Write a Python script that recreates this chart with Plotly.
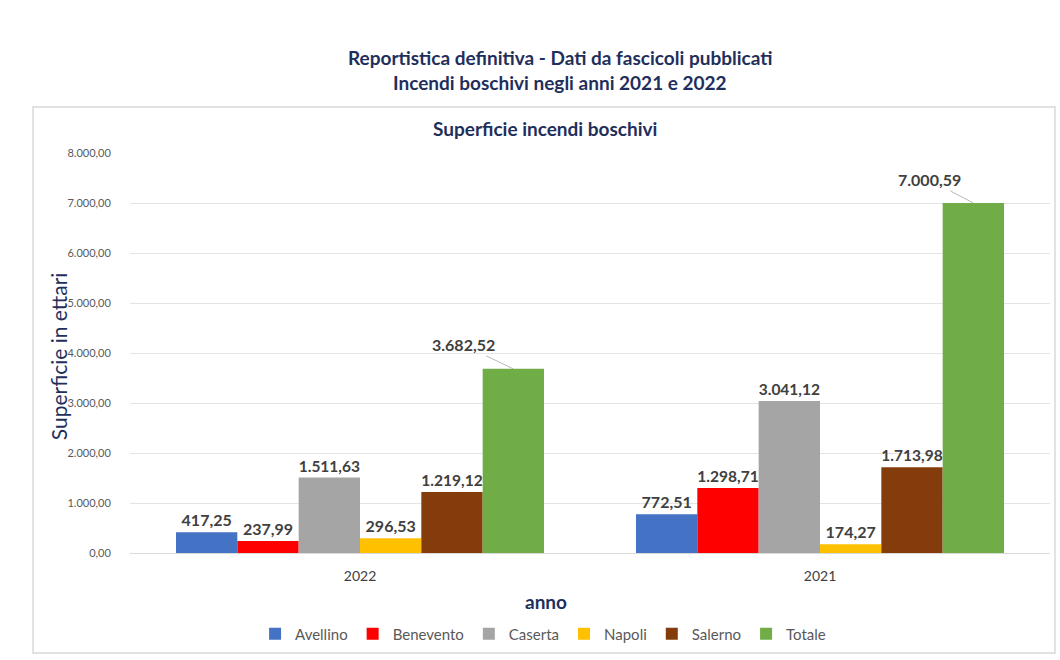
import plotly.graph_objects as go

# Superficie percorsa dal fuoco (ettari) per provincia
anni = ["2022", "2021"]
province = ["Avellino", "Benevento", "Caserta", "Napoli", "Salerno", "Totale"]
avellino = [417.25, 772.51]
benevento = [237.99, 1298.71]
caserta = [1511.63, 3041.12]
napoli = [296.53, 174.27]
salerno = [1219.12, 1713.98]
totale = [3682.52, 7000.59]

serie = [avellino, benevento, caserta, napoli, salerno, totale]
colori = ["#4472C4", "#FF0000", "#A5A5A5", "#FFC000", "#843C0C", "#70AD47"]

FONT = "Lato"
NAVY = "#1F2F5C"
LABEL = "#404040"

fig = go.Figure()
for nome, valori, colore in zip(province, serie, colori):
    is_tot = nome == "Totale"
    fig.add_trace(go.Bar(
        name=nome,
        x=anni,
        y=valori,
        marker=dict(color=colore, line=dict(width=0)),
        texttemplate="" if is_tot else "%{y:,.2f}",
        textposition="outside",
        textfont=dict(family=FONT, size=16, color=LABEL, weight="bold"),
        cliponaxis=False,
    ))

# Etichette del totale con linea guida
offset_tot = 0.4 - 0.4 / 6
spost = [(-50, -24), (-44, -23)]
for i, (v, (ax, ay)) in enumerate(zip(totale, spost)):
    etichetta = f"{v:,.2f}".replace(",", "X").replace(".", ",").replace("X", ".")
    fig.add_annotation(
        x=i + offset_tot, y=v, xref="x", yref="y",
        text=etichetta, showarrow=True, arrowhead=0, arrowwidth=0.8,
        arrowcolor="#A6A6A6", ax=ax, ay=ay, standoff=0,
        font=dict(family=FONT, size=16, color=LABEL, weight="bold"),
    )

# Titoli
def testo(x, y, t, size, bold=True, angle=0):
    fig.add_annotation(
        x=x, y=y, xref="paper", yref="paper", showarrow=False,
        xanchor="center", yanchor="middle", text=t, textangle=angle,
        font=dict(family=FONT, size=size, color=NAVY,
                  weight="bold" if bold else "normal"),
    )

testo(0.467, 1.24, "Reportistica definitiva - Dati da fascicoli pubblicati", 19)
testo(0.467, 1.175, "Incendi boschivi negli anni 2021 e 2022", 19)
testo(0.451, 1.0625, "Superficie incendi boschivi", 19)
testo(-0.078, 0.4925, "Superficie in ettari", 21, bold=False, angle=-90)
testo(0.452, -0.12, "anno", 19)

# Cornice dell'area grafico
fig.add_shape(
    type="rect", xref="paper", yref="paper",
    x0=-0.1054, x1=1.0054, y0=-0.25, y1=1.115,
    line=dict(color="#D9D9D9", width=1.5), fillcolor="rgba(0,0,0,0)", layer="below",
)

fig.update_layout(
    width=1060, height=660,
    margin=dict(l=130, r=10, t=153, b=107),
    paper_bgcolor="white", plot_bgcolor="white",
    separators=",.",
    barmode="group", bargap=0.2, bargroupgap=0,
    font=dict(family=FONT),
    showlegend=True,
    legend=dict(
        orientation="h", x=0.449, y=-0.2025, xanchor="center", yanchor="middle",
        font=dict(family=FONT, size=15, color="#595959"),
        itemwidth=30, traceorder="normal",
    ),
    xaxis=dict(
        showgrid=False, showline=True, linecolor="#D9D9D9", linewidth=1,
        ticks="outside", ticklen=10, tickcolor="rgba(0,0,0,0)",
        tickfont=dict(family=FONT, size=14, color="#404040"),
    ),
    yaxis=dict(
        range=[0, 8000], dtick=1000, tickformat=",.2f",
        showgrid=True, gridcolor="#E4E4E4", gridwidth=1,
        zeroline=False, showline=False,
        ticks="outside", ticklen=16, tickcolor="rgba(0,0,0,0)",
        tickfont=dict(family=FONT, size=11, color="#595959"),
    ),
)

fig.write_html("out.html")
